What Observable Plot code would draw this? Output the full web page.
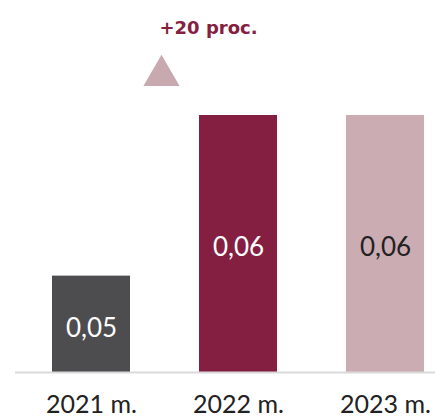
<!DOCTYPE html>
<html>
<head>
<meta charset="utf-8">
<script src="https://cdn.jsdelivr.net/npm/d3@7"></script>
<script src="https://cdn.jsdelivr.net/npm/@observablehq/plot@0.6"></script>
<style>
  html, body { margin: 0; padding: 0; background: #fff; }
</style>
</head>
<body>
<div id="chart"></div>
<script>
const years = ["2021 m.", "2022 m.", "2023 m."];
const values = [0.05, 0.06, 0.06];
const valueLabels = ["0,05", "0,06", "0,06"];
const barColors = ["#4d4d4f", "#851f41", "#cbacb3"];
const labelColors = ["#ffffff", "#ffffff", "#222222"];
const changeLabel = "+20 proc.";
const yBase = 0.044;

const data = years.map((year, i) => ({
  year, value: values[i], label: valueLabels[i], color: barColors[i], labelColor: labelColors[i]
}));

const chart = Plot.plot({
  width: 435,
  height: 418,
  marginTop: 115,
  marginBottom: 46,
  marginLeft: 15,
  marginRight: 0,
  style: { fontFamily: "Lato", fontSize: "25px", color: "#222", background: "#fff" },
  x: { domain: years, paddingInner: 0.471, paddingOuter: 0.159, align: 0.766, tickSize: 0, tickPadding: 23, label: null },
  y: { domain: [yBase, 0.06], axis: null },
  color: { type: "identity" },
  marks: [
    Plot.barY(data, { x: "year", y1: yBase, y2: "value", fill: "color" }),
    Plot.ruleY([yBase], { stroke: "#d9d9d9", strokeWidth: 2 }),
    Plot.text(data, {
      x: "year", y: d => (yBase + d.value) / 2, text: "label", fill: "labelColor",
      fontSize: 26, dy: 4
    }),
    Plot.dot([years[0]], {
      x: d => d, frameAnchor: "top", symbol: "triangle", r: 13.4,
      fill: "#c9a9b0", stroke: null, dx: 70, dy: -40
    }),
    Plot.text([changeLabel], {
      x: () => years[0], frameAnchor: "top", lineAnchor: "middle", text: d => d, dx: 68, dy: -87,
      textAnchor: "start", fontWeight: "bold", fontSize: 18, fill: "#85203f",
      fontFamily: "DejaVu Sans"
    })
  ]
});
document.getElementById("chart").appendChild(chart);
</script>
</body>
</html>
